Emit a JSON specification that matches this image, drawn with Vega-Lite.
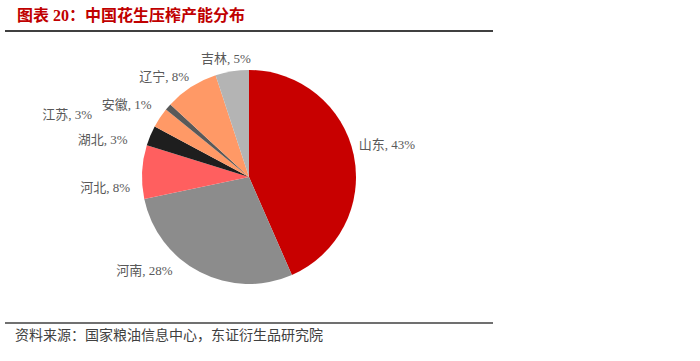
{
  "$schema": "https://vega.github.io/schema/vega-lite/v6.json",
  "autosize": "none",
  "width": 488,
  "height": 292,
  "padding": {"left": 5, "top": 31, "right": 207, "bottom": 38},
  "background": "white",
  "config": {"view": {"stroke": null}},
  "title": {
    "text": "图表 20：中国花生压榨产能分布",
    "anchor": "start",
    "frame": "group",
    "dx": 12,
    "offset": 6,
    "color": "#C00000",
    "fontSize": 16,
    "fontWeight": "bold",
    "font": "Liberation Serif, Noto Sans CJK SC"
  },
  "data": {
    "values": [
      {"name": "山东", "value": 43, "order": 1},
      {"name": "河南", "value": 28, "order": 2},
      {"name": "河北", "value": 8, "order": 3},
      {"name": "湖北", "value": 3, "order": 4},
      {"name": "江苏", "value": 3, "order": 5},
      {"name": "安徽", "value": 1, "order": 6},
      {"name": "辽宁", "value": 8, "order": 7},
      {"name": "吉林", "value": 5, "order": 8}
    ]
  },
  "transform": [
    {"stack": "value", "groupby": [], "sort": [{"field": "order"}], "as": ["t0", "t1"]},
    {"calculate": "(datum.t0 + datum.t1) / 2", "as": "mid"},
    {"calculate": "datum.name + ', ' + datum.value + '%'", "as": "label"}
  ],
  "layer": [
    {
      "mark": {"type": "arc", "outerRadius": 107},
      "encoding": {
        "theta": {"field": "t0", "type": "quantitative", "scale": {"domain": [0, 99]}},
        "theta2": {"field": "t1"},
        "color": {
          "field": "name",
          "type": "nominal",
          "scale": {
            "domain": ["山东", "河南", "河北", "湖北", "江苏", "安徽", "辽宁", "吉林"],
            "range": ["#C80000", "#8C8C8C", "#FF5F5F", "#1E1E1E", "#FF9966", "#595959", "#FF9966", "#B4B4B4"]
          },
          "legend": null
        }
      }
    },
    {
      "transform": [{"filter": "datum.name == '山东'"}],
      "mark": {"type": "text", "radius": 142, "dx": -1, "dy": -3, "fontSize": 13, "color": "#595959", "font": "Liberation Serif, Noto Sans CJK SC"},
      "encoding": {"theta": {"field": "mid", "type": "quantitative", "scale": {"domain": [0, 99]}}, "text": {"field": "label"}}
    },
    {
      "transform": [{"filter": "datum.name == '河南'"}],
      "mark": {"type": "text", "radius": 141, "dx": -40, "dy": -31, "fontSize": 13, "color": "#595959", "font": "Liberation Serif, Noto Sans CJK SC"},
      "encoding": {"theta": {"field": "mid", "type": "quantitative", "scale": {"domain": [0, 99]}}, "text": {"field": "label"}}
    },
    {
      "transform": [{"filter": "datum.name == '河北'"}],
      "mark": {"type": "text", "radius": 144, "dx": 0, "dy": 18, "fontSize": 13, "color": "#595959", "font": "Liberation Serif, Noto Sans CJK SC"},
      "encoding": {"theta": {"field": "mid", "type": "quantitative", "scale": {"domain": [0, 99]}}, "text": {"field": "label"}}
    },
    {
      "transform": [{"filter": "datum.name == '湖北'"}],
      "mark": {"type": "text", "radius": 151, "dx": -7, "dy": 21, "fontSize": 13, "color": "#595959", "font": "Liberation Serif, Noto Sans CJK SC"},
      "encoding": {"theta": {"field": "mid", "type": "quantitative", "scale": {"domain": [0, 99]}}, "text": {"field": "label"}}
    },
    {
      "transform": [{"filter": "datum.name == '江苏'"}],
      "mark": {"type": "text", "radius": 192, "dx": -22, "dy": 44, "fontSize": 13, "color": "#595959", "font": "Liberation Serif, Noto Sans CJK SC"},
      "encoding": {"theta": {"field": "mid", "type": "quantitative", "scale": {"domain": [0, 99]}}, "text": {"field": "label"}}
    },
    {
      "transform": [{"filter": "datum.name == '安徽'"}],
      "mark": {"type": "text", "radius": 142, "dx": -15, "dy": 21, "fontSize": 13, "color": "#595959", "font": "Liberation Serif, Noto Sans CJK SC"},
      "encoding": {"theta": {"field": "mid", "type": "quantitative", "scale": {"domain": [0, 99]}}, "text": {"field": "label"}}
    },
    {
      "transform": [{"filter": "datum.name == '辽宁'"}],
      "mark": {"type": "text", "radius": 131, "dx": -14, "dy": 10, "fontSize": 13, "color": "#595959", "font": "Liberation Serif, Noto Sans CJK SC"},
      "encoding": {"theta": {"field": "mid", "type": "quantitative", "scale": {"domain": [0, 99]}}, "text": {"field": "label"}}
    },
    {
      "transform": [{"filter": "datum.name == '吉林'"}],
      "mark": {"type": "text", "radius": 120, "dx": -4, "dy": 0, "fontSize": 13, "color": "#595959", "font": "Liberation Serif, Noto Sans CJK SC"},
      "encoding": {"theta": {"field": "mid", "type": "quantitative", "scale": {"domain": [0, 99]}}, "text": {"field": "label"}}
    },
    {
      "data": {"values": [{"edge": "top"}]},
      "mark": {"type": "rule", "color": "#000000", "strokeWidth": 1.5},
      "encoding": {"y": {"value": 0}}
    },
    {
      "data": {"values": [{"edge": "bottom"}]},
      "mark": {"type": "rule", "color": "#404040", "strokeWidth": 1.5},
      "encoding": {"y": {"value": "height"}}
    },
    {
      "data": {"values": [{"source": "资料来源：国家粮油信息中心，东证衍生品研究院"}]},
      "mark": {"type": "text", "align": "left", "baseline": "middle", "dy": 13, "fontSize": 14, "color": "#404040", "font": "Liberation Serif, Noto Sans CJK SC"},
      "encoding": {"x": {"value": 10}, "y": {"value": "height"}, "text": {"field": "source"}}
    }
  ]
}
